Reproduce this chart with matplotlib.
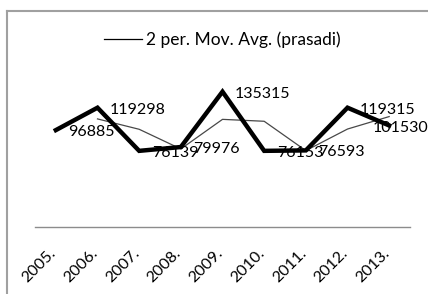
import matplotlib
matplotlib.use("Agg")
import matplotlib.pyplot as plt
import matplotlib.transforms as mtransforms
from matplotlib.lines import Line2D

plt.rcParams['font.family'] = ['Lato', 'DejaVu Sans']

# data
years = ['2005.', '2006.', '2007.', '2008.', '2009.', '2010.', '2011.', '2012.', '2013.']
prasadi = [96885, 119298, 76139, 79976, 135315, 76153, 76593, 119315, 101530]
# 2 period moving average (trendline), first year has none
mov_avg = [None, 108092, 97719, 78058, 107646, 105734, 76373, 97954, 110423]
legend_label = '2 per. Mov. Avg. (prasadi)'

# label offsets in points (last one pushed left by Excel)
label_dx = [9, 9, 9, 9, 9, 9, 9, 9, -12]

W, H = 428, 294
fig = plt.figure(figsize=(W / 100, H / 100), dpi=100)
ax = fig.add_axes([35 / W, (H - 227) / H, 375 / W, 160 / H])

x = list(range(len(years)))
ma_x = [i for i, v in zip(x, mov_avg) if v is not None]
ma_y = [v for v in mov_avg if v is not None]

ax.plot(x, prasadi, color='black', lw=3.2, solid_joinstyle='miter', zorder=3)
ma_line, = ax.plot(ma_x, ma_y, color='#484848', lw=0.9, zorder=2)

for i, v in enumerate(prasadi):
    ax.annotate(str(v), (i, v), xytext=(label_dx[i], -1.5),
                textcoords='offset points', ha='left', va='center',
                fontsize=11.5, color='black', zorder=4)

ax.set_xlim(-0.5, len(years) - 0.5)
ax.set_ylim(0, 160000)
ax.set_xticks(x)
ax.set_xticklabels(years, rotation=45, ha='right', fontsize=11.5)
ax.tick_params(axis='x', length=0, pad=14)
shift = mtransforms.ScaledTranslation(3 / 100, 0, fig.dpi_scale_trans)
for lab in ax.get_xticklabels():
    lab.set_transform(lab.get_transform() + shift)
ax.set_yticks([])
for s in ['top', 'right', 'left']:
    ax.spines[s].set_visible(False)
ax.spines['bottom'].set_color('#8c8c8c')
ax.spines['bottom'].set_linewidth(1.0)

leg = fig.legend([ma_line], [legend_label], loc='center',
                 bbox_to_anchor=(222 / W, 1 - 40 / H), frameon=False,
                 fontsize=12.5, handlelength=2.2, handletextpad=0.2)
leg.get_lines()[0].set_color('black')

# chart area border (cropped at right and bottom)
fig.add_artist(Line2D([7 / W, 1.0], [1 - 11 / H, 1 - 11 / H],
                      color='#a0a0a0', lw=1.5))
fig.add_artist(Line2D([7 / W, 7 / W], [1 - 11 / H, 0.0],
                      color='#a0a0a0', lw=1.5))

plt.savefig('out.png', dpi=100)
plt.close()
